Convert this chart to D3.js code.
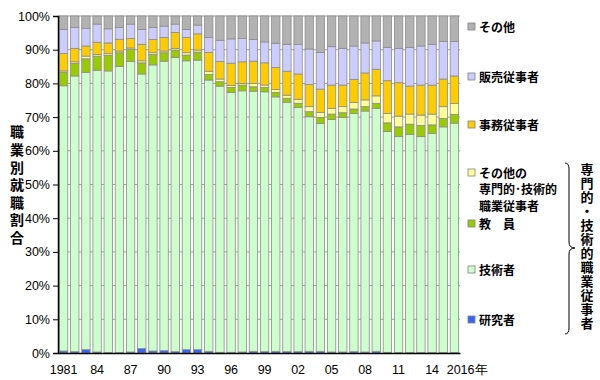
<!DOCTYPE html>
<html><head><meta charset="utf-8">
<script src="https://cdn.jsdelivr.net/npm/d3@7"></script>
<style>
html,body{margin:0;padding:0;background:#fff;}
svg{display:block;}
.num{font-family:"Liberation Sans",Arial,sans-serif;font-size:12px;fill:#000;}
.jp{font-family:"Noto Sans CJK JP","Noto Sans",sans-serif;fill:#000;}
.vert{writing-mode:vertical-rl;text-orientation:upright;}
</style></head>
<body>
<svg id="chart" width="600" height="380"></svg>
<script>
const years = [1981,1982,1983,1984,1985,1986,1987,1988,1989,1990,1991,1992,1993,1994,1995,1996,1997,1998,1999,2000,2001,2002,2003,2004,2005,2006,2007,2008,2009,2010,2011,2012,2013,2014,2015,2016];
const xTickYears = [1981,1984,1987,1990,1993,1996,1999,2002,2005,2008,2011,2014];
const xTickLabels = ["1981","84","87","90","93","96","99","02","05","08","11","14"];
const lastLabel = "2016年";
const yTicks = [0,10,20,30,40,50,60,70,80,90,100];

const researcher = [0.6,0.4,1.0,0.3,0.1,0.1,0.3,1.3,0.6,0.7,0.4,1.0,1.0,0.5,0.2,0.2,0.3,0.5,0.4,0.5,0.4,0.4,0.5,0.5,0.3,0.3,0.4,0.3,0.5,0.2,0.1,0.1,0.1,0.1,0.1,0.1];
const engineer = [78.7,81.8,82.3,83.6,83.6,84.9,86.2,81.5,84.9,85.9,87.3,85.7,85.9,80.5,79.0,77.1,77.5,77.2,77.1,75.5,74.0,72.5,69.6,67.6,69.0,69.6,70.7,71.5,72.1,65.5,64.1,64.8,64.1,65.1,67.0,68.1];
const teacher = [4.0,3.7,4.0,4.2,4.6,4.1,3.6,3.3,3.1,2.5,2.2,1.7,2.4,1.6,1.3,1.5,1.7,1.3,1.3,1.3,1.2,1.2,1.5,1.8,1.6,1.4,1.3,1.3,1.5,2.6,2.9,3.0,3.3,2.5,2.5,2.6];
const otherProf = [0.4,0.5,0.8,0.5,0.5,0.5,0.4,0.6,0.5,0.5,0.5,0.7,0.6,1.0,0.8,0.6,0.5,1.0,0.7,0.9,0.9,1.2,1.5,1.5,1.7,1.8,1.9,2.0,2.2,2.8,3.2,3.0,3.1,3.2,3.5,3.2];
const clerical = [5.2,4.0,3.0,3.6,3.2,3.5,2.8,4.9,3.9,4.0,4.7,4.5,4.8,5.6,5.2,6.6,6.4,6.6,6.6,6.5,7.1,7.5,6.6,6.9,6.9,6.4,6.9,8.0,7.9,9.7,9.9,8.3,8.9,8.6,8.2,8.2];
const sales = [7.1,6.2,5.2,5.4,4.2,3.5,4.3,4.4,3.6,3.4,2.5,2.4,2.6,4.4,6.3,7.2,6.9,6.4,6.2,7.2,8.0,8.8,10.5,10.9,11.4,10.9,9.9,8.9,8.4,9.9,10.2,11.5,11.6,12.1,11.2,10.2];
const other = [4.0,3.4,3.7,2.4,3.8,3.4,2.4,4.0,3.4,3.0,2.4,4.0,2.7,6.4,7.2,6.8,6.7,7.0,7.7,8.1,8.4,8.4,9.8,10.8,9.1,9.6,8.9,8.0,7.4,9.3,9.6,9.3,8.9,8.4,7.5,7.6];

const seriesKeys = ["researcher","engineer","teacher","otherProf","clerical","sales","other"];
const seriesColors = ["#3366ff","#ccffcc","#99cc00","#ffff99","#ffcc00","#ccccff","#b2b2b2"];

const table = years.map((yr,i)=>({year:yr, researcher:researcher[i], engineer:engineer[i], teacher:teacher[i], otherProf:otherProf[i], clerical:clerical[i], sales:sales[i], other:other[i]}));

const svg = d3.select("#chart");
const mLeft=58, mRight=460, mTop=16, mBottom=353;

const x = d3.scaleBand().domain(years).range([mLeft,mRight]).paddingInner(0.16).paddingOuter(0.08);
const y = d3.scaleLinear().domain([0,100]).range([mBottom,mTop]);

// gridlines
svg.append("g").selectAll("line").data(yTicks.filter(d=>d>0)).join("line")
  .attr("x1",mLeft).attr("x2",mRight).attr("y1",d=>y(d)).attr("y2",d=>y(d))
  .attr("stroke","#a0a0a0").attr("stroke-width",1);

const stacked = d3.stack().keys(seriesKeys)(table);
const color = d3.scaleOrdinal().domain(seriesKeys).range(seriesColors);

svg.append("g").selectAll("g").data(stacked).join("g")
  .attr("fill",d=>color(d.key))
  .selectAll("rect").data(d=>d).join("rect")
  .attr("x",d=>x(d.data.year)+0.5)
  .attr("width",x.bandwidth()-1)
  .attr("y",d=>y(d[1]))
  .attr("height",d=>Math.max(0,y(d[0])-y(d[1])))
  .attr("stroke","#8c8c8c").attr("stroke-width",0.8);

// y axis
const yAxis = d3.axisLeft(y).tickValues(yTicks).tickFormat(d=>d+"%").tickSize(5).tickPadding(3);
const gy = svg.append("g").attr("transform",`translate(${mLeft},0)`).call(yAxis);
gy.select(".domain").attr("stroke","#000").attr("stroke-width",1.5);
gy.selectAll(".tick line").attr("stroke","#000");
gy.selectAll(".tick text").attr("class","num").style("font-size","12.5px").attr("fill","#000");

// x axis
const xAxis = d3.axisBottom(x).tickValues(xTickYears).tickFormat((d,i)=>xTickLabels[i]).tickSize(0).tickPadding(12);
const gx = svg.append("g").attr("transform",`translate(0,${mBottom})`).call(xAxis);
gx.select(".domain").attr("stroke","#000").attr("stroke-width",1.5);
gx.selectAll(".tick text").attr("class","num").style("font-size","12.5px").attr("fill","#000");
svg.append("text").attr("class","num").style("font-size","12.5px")
  .attr("x",x(2016)-3).attr("y",mBottom+21).text(lastLabel);

// y title (vertical)
svg.append("text").attr("class","jp vert")
  .style("font-size","14px").style("font-weight","bold").style("letter-spacing","3.6px")
  .attr("x",17).attr("y",125).text("職業別就職割合");

// legend
const legend = [
  {key:"other", lines:["その他"], y:27, dy:18},
  {key:"sales", lines:["販売従事者"], y:77, dy:18},
  {key:"clerical", lines:["事務従事者"], y:125, dy:18},
  {key:"otherProf", lines:["その他の","専門的･技術的","職業従事者"], y:173, dy:16.5},
  {key:"teacher", lines:["教　員"], y:224, dy:18},
  {key:"engineer", lines:["技術者"], y:270, dy:18},
  {key:"researcher", lines:["研究者"], y:320, dy:18}
];
const lg = svg.append("g");
legend.forEach(item=>{
  lg.append("rect").attr("x",468).attr("y",item.y-4).attr("width",7).attr("height",7)
    .attr("fill",color(item.key)).attr("stroke","#808080").attr("stroke-width",0.8);
  item.lines.forEach((t,j)=>{
    lg.append("text").attr("class","jp").style("font-size","12px").style("font-weight","bold")
      .attr("x",479).attr("y",item.y+4.5+j*item.dy).text(t);
  });
});

// brace
const bx=565, btop=163, bbot=334, bmid=248;
svg.append("path")
  .attr("d",`M${bx},${btop} Q${bx+4},${btop} ${bx+4},${btop+6} L${bx+4},${bmid-6} Q${bx+4},${bmid} ${bx+10},${bmid} Q${bx+4},${bmid} ${bx+4},${bmid+6} L${bx+4},${bbot-6} Q${bx+4},${bbot} ${bx},${bbot}`)
  .attr("fill","none").attr("stroke","#000").attr("stroke-width",1);

svg.append("text").attr("class","jp vert")
  .style("font-size","13px").style("font-weight","bold").style("letter-spacing","1px")
  .attr("x",587).attr("y",163).text("専門的・技術的職業従事者");
</script>
</body></html>
